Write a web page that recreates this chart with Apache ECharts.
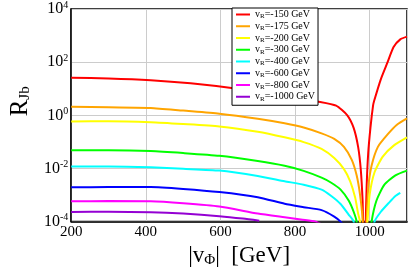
<!DOCTYPE html>
<html><head><meta charset="utf-8">
<script src="https://cdn.jsdelivr.net/npm/echarts@6/dist/echarts.min.js"></script>
<style>html,body{margin:0;padding:0;background:#fff}#c{width:409px;height:273px}</style>
</head><body><div id="c"></div>
<script>
const vrLabels = ['-150', '-175', '-200', '-300', '-400', '-600', '-800', '-1000'];
const lineColors = ['#ff0000', '#ffa500', '#ffff00', '#00ff00', '#00ffff', '#0000ff', '#ff00ff', '#9400d3'];
const xTicks = [200, 400, 600, 800, 1000];
const yTickExps = [-4, -2, 0, 2, 4];

const red = [[200,26],[300,24.5],[413,21],[520,16],[645,10],[780,5.2],[860,3.3],[910,2.3],[940,1.0],[957,0.335],[969,0.065],[976,0.0094],[981,6.1e-4],[982,1.2e-4],[985,1e-6],[992,2.4e-3],[996,0.037],[1002,0.335],[1009,2.3],[1012,3.5],[1030,23],[1048,100],[1064,370],[1082,720],[1100,910]];
const orange = [[200,2.1],[300,2.0],[413,1.9],[500,1.5],[597,1.15],[700,0.74],[772,0.50],[823,0.35],[871,0.21],[905,0.13],[931,0.065],[952,0.021],[965,0.0055],[974,1.06e-3],[981,1.2e-4],[986,1e-6],[992,1.2e-4],[996,1.8e-3],[1005,0.0126],[1022,0.065],[1048,0.19],[1073,0.44],[1100,0.76]];
const yellow = [[200,0.58],[300,0.6],[413,0.55],[500,0.47],[597,0.38],[700,0.24],[772,0.148],[823,0.098],[871,0.054],[905,0.0245],[931,0.0094],[948,3.2e-3],[961,8e-4],[969,2e-4],[974,1e-4],[984,1e-6],[994,1e-4],[1000,1.06e-3],[1013,7.2e-3],[1035,0.028],[1065,0.074],[1100,0.148]];
const green = [[200,0.048],[300,0.048],[413,0.045],[500,0.038],[597,0.030],[700,0.019],[772,0.0126],[823,8.1e-3],[871,4.5e-3],[897,2.9e-3],[922,1.6e-3],[944,6.1e-4],[957,2.35e-4],[965,1e-4],[985,1e-6],[1005,1e-4],[1018,6.1e-4],[1039,2.4e-3],[1069,5.5e-3],[1100,8.3e-3]];
const cyan = [[200,0.0118],[300,0.0118],[413,0.011],[500,0.0097],[597,8.3e-3],[700,5.2e-3],[772,3.3e-3],[823,2.45e-3],[871,1.6e-3],[897,9.2e-4],[922,4.6e-4],[944,1.8e-4],[957,1e-4],[985,1e-6],[1013,1e-4],[1030,2.35e-4],[1052,5.2e-4],[1069,9.2e-4],[1082,1.2e-3]];
const blue = [[200,1.95e-3],[300,2.0e-3],[413,2.0e-3],[500,1.7e-3],[597,1.3e-3],[700,8.3e-4],[772,4.7e-4],[823,3.5e-4],[871,2.7e-4],[905,1.55e-4],[922,1e-4],[930,7e-5]];
const magenta = [[200,5.8e-4],[300,5.9e-4],[413,5.8e-4],[500,4.9e-4],[597,3.7e-4],[700,2.0e-4],[772,1.45e-4],[820,1.18e-4],[855,1e-4],[870,8e-5]];
const purple = [[200,2.3e-4],[300,2.35e-4],[413,2.25e-4],[500,2.0e-4],[597,1.6e-4],[660,1.3e-4],[704,1.08e-4]];
const curves = [red, orange, yellow, green, cyan, blue, magenta, purple];

const serif = "'Liberation Serif','Times New Roman',serif";
const chart = echarts.init(document.getElementById('c'), null, {renderer: 'canvas'});

const series = curves.map((pts, i) => ({
  name: 'vR=' + vrLabels[i] + ' GeV',
  type: 'line',
  data: pts,
  showSymbol: false,
  symbol: 'none',
  smooth: 0.2,
  clip: true,
  color: lineColors[i],
  lineStyle: {width: 2, color: lineColors[i]},
  emphasis: {disabled: true}
}));

const expOf = v => Math.round(Math.log10(v));

chart.setOption({
  animation: false,
  backgroundColor: '#fff',
  grid: {left: 57, right: 2, top: 8, bottom: 41, show: true, borderColor: '#000', borderWidth: 1.5},
  legend: {
    orient: 'vertical', left: 232, top: 8,
    backgroundColor: '#fff', borderColor: '#000', borderWidth: 1,
    padding: [1, 3, 3, 4], itemGap: 0.75, itemWidth: 14, itemHeight: 2, icon: 'rect',
    formatter: name => '{a|v}{s|R}{a|=' + name.replace('vR=', '') + '}',
    textStyle: {
      fontFamily: serif, fontSize: 10, color: '#000',
      rich: {
        a: {fontFamily: serif, fontSize: 10, lineHeight: 12, color: '#000'},
        s: {fontFamily: serif, fontSize: 7, lineHeight: 12, color: '#000', padding: [4, 0, 0, 0]}
      }
    }
  },
  xAxis: {
    type: 'value', min: 200, max: 1100, interval: 200,
    name: '{t||v}{sub|Φ}{t||  [GeV]}', nameLocation: 'middle', nameGap: 11,
    nameTextStyle: {
      fontFamily: serif, fontSize: 23, color: '#000',
      rich: {
        t: {fontFamily: serif, fontSize: 23, color: '#000'},
        sub: {fontFamily: serif, fontSize: 15, color: '#000', padding: [9, 0, 0, 0]}
      }
    },
    axisLine: {show: true, lineStyle: {color: '#000', width: 1.5}},
    axisTick: {show: false},
    axisLabel: {
      fontFamily: serif, fontSize: 15, color: '#000', margin: 3, showMaxLabel: false,
      formatter: v => xTicks.includes(v) ? String(v) : ''
    },
    splitLine: {show: true, lineStyle: {color: '#cccccc', width: 1}}
  },
  yAxis: {
    type: 'log', logBase: 10, min: 1e-4, max: 1e4, interval: 2,
    name: '{r|R}{sub|Jb}', nameLocation: 'middle', nameGap: 26, nameRotate: 90,
    nameTextStyle: {
      fontFamily: serif, fontSize: 25, color: '#000', padding: [0, 0, 0, 28],
      rich: {
        r: {fontFamily: serif, fontSize: 25, color: '#000'},
        sub: {fontFamily: serif, fontSize: 15, color: '#000', padding: [9, 0, 0, 0]}
      }
    },
    axisLine: {show: true, lineStyle: {color: '#000', width: 1.5}},
    axisTick: {show: false},
    axisLabel: {
      color: '#000', margin: 3,
      formatter: v => yTickExps.includes(expOf(v)) ? '{b|10}{s|' + expOf(v) + '}' : '',
      rich: {
        b: {fontFamily: serif, fontSize: 16, color: '#000'},
        s: {fontFamily: serif, fontSize: 10, color: '#000', padding: [0, 0, 8, 0]}
      }
    },
    splitLine: {show: true, lineStyle: {color: '#cccccc', width: 1}}
  },
  series: series
});
</script></body></html>
